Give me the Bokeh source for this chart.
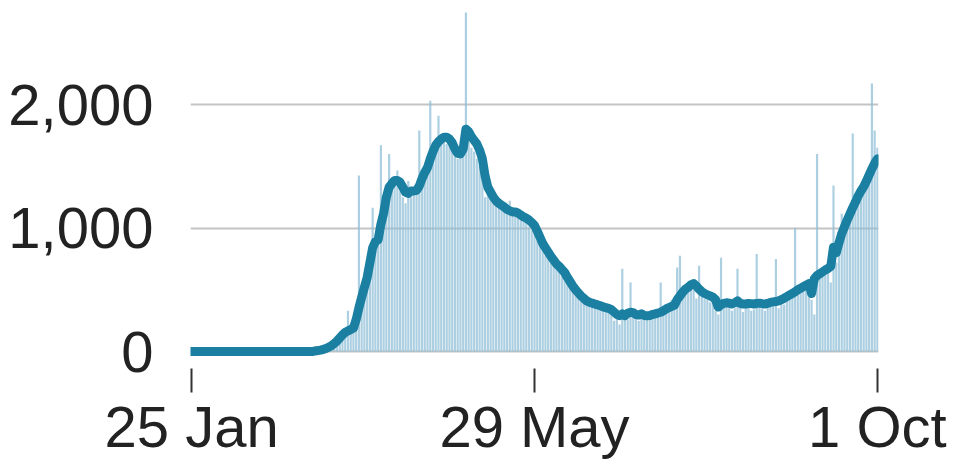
from bokeh.plotting import figure
from bokeh.models import Range1d, FixedTicker, NumeralTickFormatter
from bokeh.embed import file_html
from bokeh.resources import INLINE

# day index 0 = 25 Jan, 125 = 29 May, 250 = 1 Oct
tick_days = [0, 125, 250]
tick_labels = ["25 Jan", "29 May", "1 Oct"]
y_ticks = [0, 1000, 2000]

# daily values (bars) from day 40 to day 250
bar_start = 40
daily = [
    2, 3, 5, 6, 10, 12, 15, 20, 25, 35,
    45, 55, 70, 100, 120, 140, 160, 330, 170, 200,
    230, 1425, 420, 550, 650, 780, 1165, 870, 920, 1670,
    1150, 1250, 1600, 1380, 1400, 1465, 1300, 1250, 1200, 1380,
    1250, 1320, 1280, 1790, 1450, 1500, 1560, 2030, 1650, 1700,
    1910, 1720, 1700, 1680, 1720, 1650, 1580, 1560, 1600, 1620,
    2745, 1700, 1650, 1620, 1560, 1500, 1420, 1250, 1300, 1250,
    1200, 1180, 1160, 1150, 1140, 1130, 1220, 1100, 1120, 1080,
    1060, 1050, 1040, 1010, 980, 950, 900, 860, 820, 780,
    750, 720, 700, 680, 650, 620, 600, 570, 540, 510,
    480, 450, 420, 400, 390, 380, 370, 360, 350, 340,
    330, 340, 320, 300, 250, 270, 220, 670, 300, 260,
    560, 310, 280, 250, 300, 270, 260, 300, 280, 320,
    300, 560, 330, 380, 350, 420, 360, 680, 775, 470,
    520, 540, 560, 500, 430, 695, 460, 430, 420, 400,
    420, 330, 300, 760, 400, 360, 380, 330, 350, 670,
    380, 320, 360, 400, 330, 340, 790, 370, 350, 330,
    380, 360, 400, 750, 350, 400, 380, 420, 430, 450,
    1000, 470, 480, 520, 510, 550, 420, 300, 1600, 600,
    640, 620, 700, 560, 1345, 720, 900, 1115, 1000, 1050,
    1150, 1765, 1250, 1280, 1330, 1400, 1420, 1480, 2170, 1790,
    1650,
]

# rolling average line, day 0 to day 250
average = [0] * 45 + [
    5, 8, 12, 18, 25,
    35, 48, 65, 85, 110, 135, 155, 168, 178, 190,
    260, 355, 440, 520, 600, 720, 840, 890, 905, 1030,
    1120, 1250, 1330, 1360, 1385, 1385, 1370, 1330, 1290, 1280,
    1300, 1300, 1305, 1340, 1400, 1450, 1490, 1560, 1620, 1670,
    1700, 1720, 1735, 1735, 1720, 1690, 1640, 1605, 1600, 1640,
    1800, 1780, 1740, 1710, 1680, 1630, 1560, 1420, 1330, 1290,
    1250, 1220, 1200, 1185, 1170, 1150, 1140, 1130, 1130, 1120,
    1105, 1090, 1080, 1065, 1045, 1020, 975, 925, 875, 840,
    805, 770, 740, 710, 690, 665, 640, 600, 565, 530,
    500, 475, 450, 430, 410, 400, 392, 385, 378, 370,
    362, 356, 350, 340, 320, 300, 290, 305, 290, 310,
    318, 315, 300, 295, 305, 292, 290, 292, 300, 305,
    312, 318, 330, 345, 355, 365, 375, 420, 450, 480,
    505, 520, 540, 550, 530, 505, 485, 470, 460, 450,
    440, 420, 360, 380, 390, 395, 392, 385, 395, 410,
    390, 385, 385, 390, 388, 385, 390, 392, 388, 385,
    390, 398, 402, 405, 410, 420, 432, 445, 458, 470,
    485, 500, 512, 525, 538, 550, 470, 590, 615, 630,
    645, 660, 672, 690, 845, 800, 880, 955, 1010, 1065,
    1115, 1165, 1210, 1260, 1300, 1335, 1380, 1430, 1480, 1525,
    1560,
]

bar_days = list(range(bar_start, bar_start + len(daily)))
avg_days = list(range(len(average)))

FONT = "Liberation Sans"

p = figure(frame_width=688, frame_height=356, output_backend="svg",
           toolbar_location=None,
           x_range=Range1d(-0.4, 250.4), y_range=Range1d(-40, 2842),
           min_border_left=190, min_border_right=83, min_border_top=0,
           min_border_bottom=0)
p.outline_line_color = None
p.background_fill_color = "white"
p.border_fill_color = "white"

p.vbar(x=bar_days, top=daily, bottom=0, width=0.8,
       fill_color="#8cbdd5", fill_alpha=0.72, line_color=None)
p.line(x=avg_days, y=average, line_color="#1a7fa1", line_width=9,
       line_join="round", line_cap="round")

# grid
p.xgrid.visible = False
p.ygrid.ticker = FixedTicker(ticks=y_ticks)
p.ygrid.grid_line_color = "#c4c4c4"
p.ygrid.grid_line_width = 2

# y axis
p.yaxis.ticker = FixedTicker(ticks=y_ticks)
p.yaxis.formatter = NumeralTickFormatter(format="0,0")
p.yaxis.axis_line_color = None
p.yaxis.major_tick_line_color = None
p.yaxis.minor_tick_line_color = None
p.yaxis.major_label_standoff = 31
p.yaxis.major_label_text_font = FONT
p.yaxis.major_label_text_font_size = "58px"
p.yaxis.major_label_text_color = "#222222"

# x axis
p.xaxis.ticker = FixedTicker(ticks=tick_days)
p.xaxis.major_label_overrides = {d: l for d, l in zip(tick_days, tick_labels)}
p.xaxis.axis_line_color = None
p.xaxis.minor_tick_line_color = None
p.xaxis.major_tick_line_color = "#333333"
p.xaxis.major_tick_line_width = 2
p.xaxis.major_tick_in = -12
p.xaxis.major_tick_out = 36
p.xaxis.major_label_standoff = 1
p.xaxis.major_label_text_font = FONT
p.xaxis.major_label_text_font_size = "58px"
p.xaxis.major_label_text_color = "#222222"

open("out.html", "w").write(file_html(p, INLINE))
